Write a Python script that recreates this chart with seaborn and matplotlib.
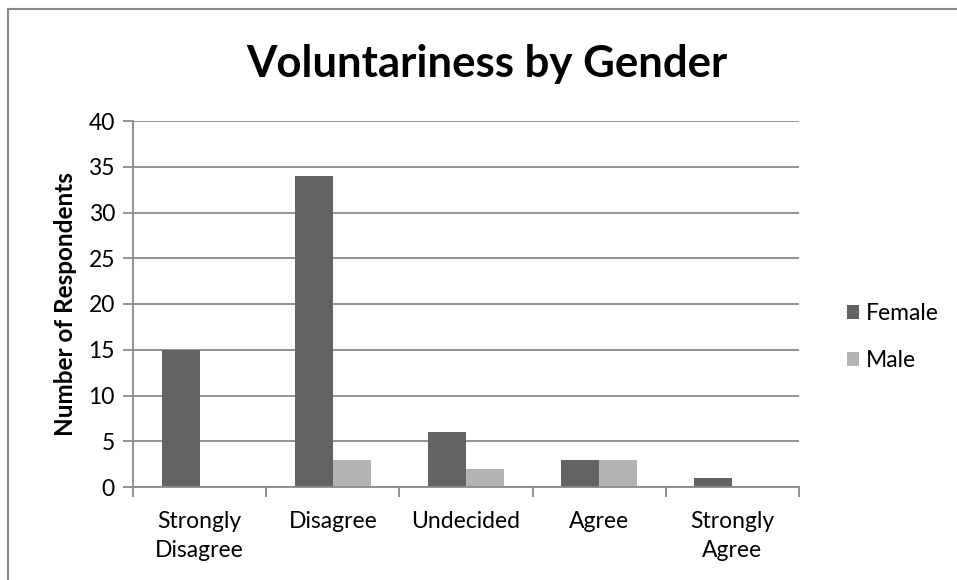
import matplotlib
matplotlib.use("Agg")
import matplotlib.pyplot as plt
import matplotlib.patches as mpatches
import matplotlib.lines as mlines
import seaborn as sns
import pandas as pd

# Survey responses by gender
categories = ["Strongly\nDisagree", "Disagree", "Undecided", "Agree", "Strongly\nAgree"]
female = [15, 34, 6, 3, 1]
male = [0, 3, 2, 3, 0]
series = ["Female", "Male"]
colors = {"Female": "#636363", "Male": "#b3b3b3"}
y_ticks = [0, 5, 10, 15, 20, 25, 30, 35, 40]

df = pd.DataFrame({
    "category": categories * 2,
    "gender": ["Female"] * len(categories) + ["Male"] * len(categories),
    "count": female + male,
})

sns.set_theme(style="white")
plt.rcParams["font.family"] = ["Lato", "DejaVu Sans"]

W, H = 957, 580
fig = plt.figure(figsize=(W / 100, H / 100), dpi=100)
ax = fig.add_axes([133 / W, 1 - 487 / H, (799 - 133) / W, (487 - 121) / H])

sns.barplot(data=df, x="category", y="count", hue="gender", order=categories,
            hue_order=series, palette=colors, width=0.572, gap=0,
            saturation=1, ax=ax, legend=False, edgecolor="none")

grid_c = "#8a8a8a"
fs = 16.5
ax.set_ylim(0, 40)
ax.set_xlim(-0.5, len(categories) - 0.5)
ax.set_yticks(y_ticks)
ax.yaxis.grid(True, color=grid_c, linewidth=1.3)
ax.set_axisbelow(True)
for s in ["top", "right"]:
    ax.spines[s].set_visible(False)
for s in ["left", "bottom"]:
    ax.spines[s].set_color(grid_c)
    ax.spines[s].set_linewidth(1.3)

ax.set_xticks(range(len(categories)))
ax.set_xticklabels(categories, fontsize=fs, color="black", linespacing=1.5)
ax.set_xticks([i - 0.5 for i in range(len(categories) + 1)], minor=True)
ax.tick_params(axis="x", which="major", length=0, pad=17)
ax.tick_params(axis="x", which="minor", bottom=True, length=7, width=1.3, color=grid_c)
ax.tick_params(axis="y", left=True, length=7, width=1.3, color=grid_c,
               labelsize=fs, labelcolor="black", pad=6)

ax.set_xlabel("")
ax.set_ylabel("Number of Respondents", fontsize=17.5, fontweight="bold", labelpad=8,
              color="black")

fig.text(487 / W, 1 - 64 / H, "Voluntariness by Gender", ha="center", va="center",
         fontsize=31.5, fontweight="bold", color="black")

handles = [mpatches.Patch(facecolor=colors[s], edgecolor="none", label=s) for s in series]
fig.legend(handles=handles, loc="center left", bbox_to_anchor=(826 / W, 1 - 337 / H),
           frameon=False, fontsize=fs, handlelength=0.55, handleheight=0.55,
           handletextpad=0.3, labelspacing=1.15, labelcolor="black")

# chart area border
fig.add_artist(mlines.Line2D([8 / W, 8 / W], [1 - 9 / H, 0], transform=fig.transFigure,
                             color="#888888", linewidth=1.5))
fig.add_artist(mlines.Line2D([8 / W, 1], [1 - 9 / H, 1 - 9 / H], transform=fig.transFigure,
                             color="#888888", linewidth=1.5))

fig.savefig("out.png", dpi=100, facecolor="white")
